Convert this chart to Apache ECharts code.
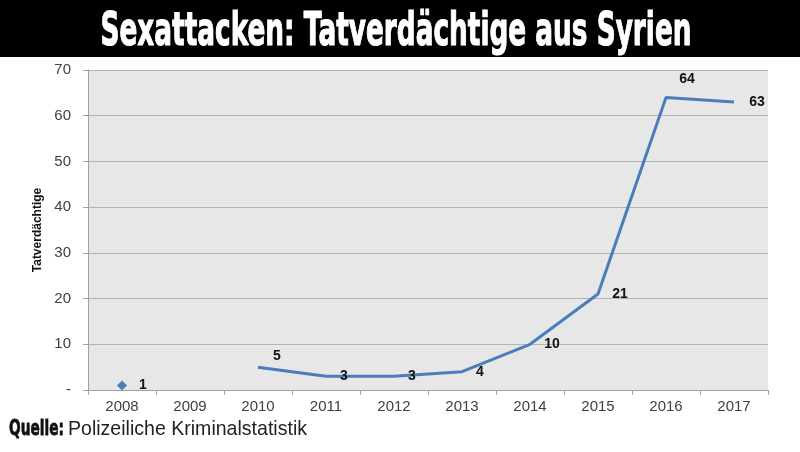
<!DOCTYPE html>
<html>
<head>
<meta charset="utf-8">
<script src="https://cdn.jsdelivr.net/npm/echarts@6/dist/echarts.min.js"></script>
<style>
html,body{margin:0;padding:0;background:#fff;}
#c{width:800px;height:452px;}
</style>
</head>
<body>
<div id="c"></div>
<script>
const title = 'Sexattacken: Tatverdächtige aus Syrien';
const sourceLabel = 'Quelle:';
const sourceText = 'Polizeiliche Kriminalstatistik';
const yAxisName = 'Tatverdächtige';
const years = ['2008','2009','2010','2011','2012','2013','2014','2015','2016','2017'];
const values = [1, null, 5, 3, 3, 4, 10, 21, 64, 63];
const yTicks = [0, 10, 20, 30, 40, 50, 60, 70];

// label offsets (style only)
const labelOffsets = [[21,0],[0,0],[19,-11],[18,0],[18,0],[18,0],[22,0],[22,0],[21,-18],[23,0]];

function measure(text, font){
  const ctx = document.createElement('canvas').getContext('2d');
  ctx.font = font;
  return ctx.measureText(text).width;
}
const titleFont = 'bold 47px "DejaVu Sans"';
const titleScale = 591 / measure(title, titleFont);
const qFont = 'bold 22px "DejaVu Sans"';
const qScale = 55 / measure(sourceLabel, qFont);
const sFont = '21px "Liberation Sans"';
const sScale = 239 / measure(sourceText, sFont);

const chart = echarts.init(document.getElementById('c'));
const seriesData = values.map((v, i) => ({
  value: v,
  symbol: i === 0 ? 'diamond' : 'circle',
  symbolSize: i === 0 ? 10 : 0,
  label: { offset: labelOffsets[i] }
}));

chart.setOption({
  animation: false,
  backgroundColor: '#ffffff',
  graphic: [
    { type: 'rect', shape: { x: 0, y: 0, width: 800, height: 57 }, style: { fill: '#000000' }, z: 10 },
    { type: 'text', x: 396, y: 33, scaleX: titleScale, z: 11,
      style: { text: title, font: titleFont, fill: '#ffffff', stroke: '#ffffff', lineWidth: 1.2, textAlign: 'center', textVerticalAlign: 'middle' } },
    { type: 'text', x: 9, y: 429, scaleX: qScale, z: 11,
      style: { text: sourceLabel, font: qFont, fill: '#111111', stroke: '#111111', lineWidth: 0.8, textAlign: 'left', textVerticalAlign: 'middle' } },
    { type: 'text', x: 68, y: 429, scaleX: sScale, z: 11,
      style: { text: sourceText, font: sFont, fill: '#222222', textAlign: 'left', textVerticalAlign: 'middle' } }
  ],
  grid: { left: 88, right: 32, top: 70, bottom: 62, show: true, backgroundColor: '#e7e7e7', borderWidth: 0 },
  xAxis: {
    type: 'category',
    data: years,
    boundaryGap: true,
    axisLine: { show: true, lineStyle: { color: '#a0a0a0', width: 1 } },
    axisTick: { show: true, length: 5, lineStyle: { color: '#a0a0a0' } },
    axisLabel: { color: '#404040', fontSize: 15, fontFamily: 'Liberation Sans', margin: 9 }
  },
  yAxis: {
    type: 'value',
    min: yTicks[0],
    max: yTicks[yTicks.length - 1],
    interval: yTicks[1] - yTicks[0],
    name: yAxisName,
    nameLocation: 'middle',
    nameGap: 42,
    nameRotate: 90,
    nameTextStyle: { color: '#111111', fontSize: 12, fontWeight: 'bold', fontFamily: 'Liberation Sans' },
    axisLine: { show: true, lineStyle: { color: '#a0a0a0', width: 1 } },
    axisTick: { show: true, length: 5, lineStyle: { color: '#a0a0a0' } },
    axisLabel: { color: '#404040', fontSize: 15, fontFamily: 'Liberation Sans', margin: 17,
      formatter: v => v === 0 ? '-' : String(v) },
    splitLine: { show: true, lineStyle: { color: '#b4b4b4', width: 1 } }
  },
  series: [{
    type: 'line',
    data: seriesData,
    connectNulls: false,
    showSymbol: true,
    itemStyle: { color: '#4a7ebb' },
    lineStyle: { color: '#4a7ebb', width: 3 },
    label: {
      show: true,
      position: 'inside',
      color: '#111111',
      fontSize: 14,
      fontWeight: 'bold',
      fontFamily: 'Liberation Sans'
    }
  }]
});
</script>
</body>
</html>
